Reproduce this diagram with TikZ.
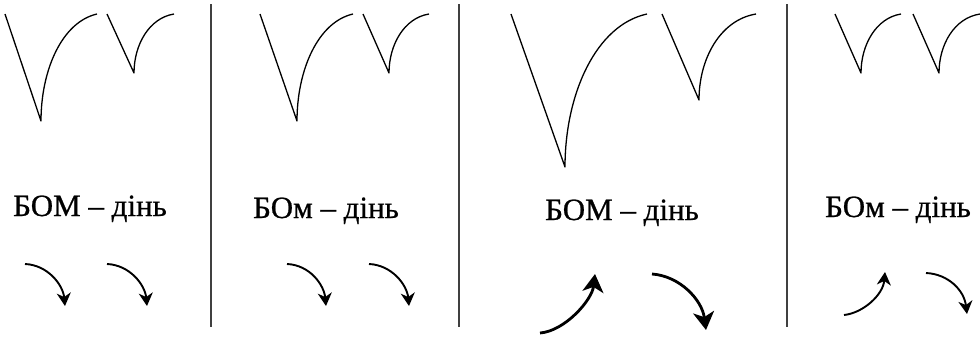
\documentclass[tikz,border=0pt]{standalone}
\usepackage{fontspec}
\setmainfont{Liberation Serif}
\newfontfamily\capfont{Liberation Serif}[FakeBold=0.7]
\usetikzlibrary{arrows.meta}
\tikzset{
  contour/.style={line width=1.3pt, line join=round},
  divider/.style={line width=1.4pt, black!75},
  caption/.style={anchor=base, inner sep=0pt, font=\capfont\fontsize{31}{36}\selectfont},
  thinarrow/.style={-{Stealth[length=13pt, width=14pt, inset=4pt]}, line width=1.9pt},
  thickarrow/.style={-{Stealth[length=18pt, width=21pt, inset=5pt]}, line width=2.8pt}
}

\begin{document}
\begin{tikzpicture}[x=1pt, y=-1pt]
  \useasboundingbox (0,0) rectangle (980,338);

  % dividers
  \draw[divider] (211,4) -- (211,327);
  \draw[divider] (459,4) -- (459,327);
  \draw[divider] (787,4) -- (787,327);

  % contours
  \draw[contour] (5,14) -- (41,121) .. controls (41,70) and (62,22) .. (97,14);
  \draw[contour] (107,14) -- (134,73) .. controls (134,45) and (149,18) .. (174,14);
  \draw[contour] (260,14) -- (297,121) .. controls (297,70) and (318,22) .. (353,14);
  \draw[contour] (363,14) -- (389,73) .. controls (389,45) and (404,18) .. (429,14);
  \draw[contour] (511,14) -- (565,167) .. controls (565,94) and (596,25) .. (647,14);
  \draw[contour] (662,14) -- (699,100) .. controls (699,59) and (720,20) .. (756,14);
  \draw[contour] (835,14) -- (861,73) .. controls (861,45) and (876,18) .. (901,14);
  \draw[contour] (913,14) -- (939,73) .. controls (939,45) and (954,18) .. (980,14);

  % captions
  \node[caption] (capA) at (90,216) {БОМ – дінь};
  \node[caption] (capB) at (326,218) {БОм – дінь};
  \node[caption] (capC) at (622,220) {БОМ – дінь};
  \node[caption] (capD) at (898,217) {БОм – дінь};

  % arrows
  \draw[thinarrow] (25,264) .. controls (48,265) and (63,285) .. (65,306);
  \draw[thinarrow] (107,264) .. controls (130,265) and (145,285) .. (147,306);
  \draw[thinarrow] (287,264) .. controls (310,265) and (324,285) .. (326,306);
  \draw[thinarrow] (369,264) .. controls (392,265) and (407,285) .. (409,306);
  \draw[thickarrow] (540,333) .. controls (565,331) and (592,300) .. (595,274);
  \draw[thickarrow] (652,274) .. controls (680,276) and (702,300) .. (706,330);
  \draw[thinarrow] (844,315) .. controls (863,313) and (883,295) .. (885,272);
  \draw[thinarrow] (926,273) .. controls (948,274) and (964,290) .. (967,314);
\end{tikzpicture}
\end{document}
